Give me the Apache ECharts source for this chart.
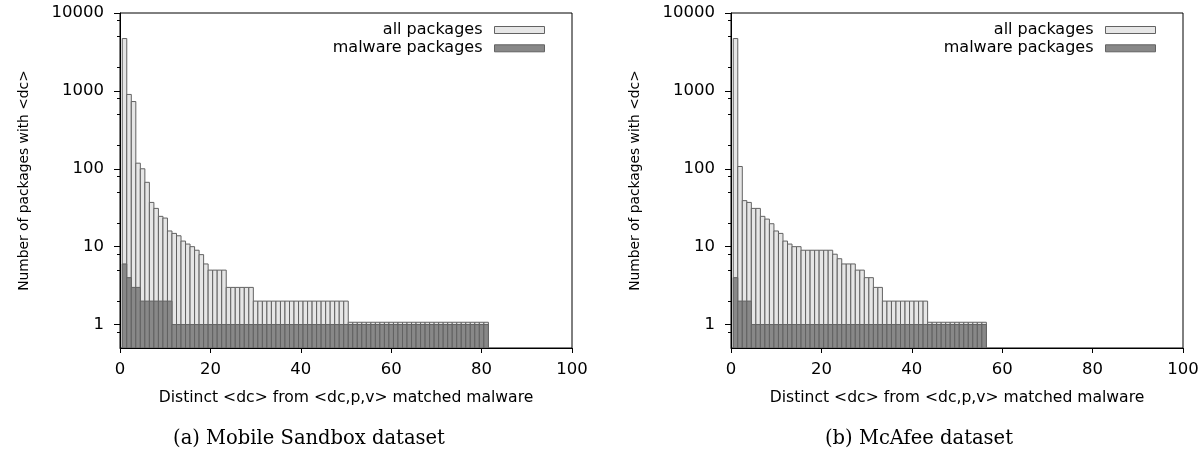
<!DOCTYPE html>
<html><head><meta charset="utf-8">
<script src="https://cdn.jsdelivr.net/npm/echarts@6/dist/echarts.min.js"></script>
<style>html,body{margin:0;padding:0;background:#fff}#c{width:1204px;height:452px}</style>
</head><body><div id="c"></div>
<script>
// ---- data ----
const seriesNames = ['all packages', 'malware packages'];
// x = 1..81 (Mobile Sandbox)
const sandboxAll = [
  4700, 900, 730, 118, 100, 67, 37, 31, 24.5, 23.3,
  15.9, 14.8, 13.8, 11.8, 10.8, 10, 9, 7.9, 6, 5,
  5, 5, 5, 3, 3, 3, 3, 3, 3, 2,
  2, 2, 2, 2, 2, 2, 2, 2, 2, 2,
  2, 2, 2, 2, 2, 2, 2, 2, 2, 2,
  1.07, 1.07, 1.07, 1.07, 1.07, 1.07, 1.07, 1.07, 1.07, 1.07,
  1.07, 1.07, 1.07, 1.07, 1.07, 1.07, 1.07, 1.07, 1.07, 1.07,
  1.07, 1.07, 1.07, 1.07, 1.07, 1.07, 1.07, 1.07, 1.07, 1.07,
  1.07
];
const sandboxMalware = [
  6, 4, 3, 3, 2, 2, 2, 2, 2, 2,
  2, 1, 1, 1, 1, 1, 1, 1, 1, 1,
  1, 1, 1, 1, 1, 1, 1, 1, 1, 1,
  1, 1, 1, 1, 1, 1, 1, 1, 1, 1,
  1, 1, 1, 1, 1, 1, 1, 1, 1, 1,
  1, 1, 1, 1, 1, 1, 1, 1, 1, 1,
  1, 1, 1, 1, 1, 1, 1, 1, 1, 1,
  1, 1, 1, 1, 1, 1, 1, 1, 1, 1,
  1
];
// x = 1..56 (McAfee)
const mcafeeAll = [
  4700, 107, 39, 37, 31, 31, 24.5, 22.6, 19.7, 15.9,
  14.8, 11.8, 10.8, 10, 10, 9, 9, 9, 9, 9,
  9, 9, 8, 7, 6, 6, 6, 5, 5, 4,
  4, 3, 3, 2, 2, 2, 2, 2, 2, 2,
  2, 2, 2, 1.07, 1.07, 1.07, 1.07, 1.07, 1.07, 1.07,
  1.07, 1.07, 1.07, 1.07, 1.07, 1.07
];
const mcafeeMalware = [
  4, 2, 2, 2, 1, 1, 1, 1, 1, 1,
  1, 1, 1, 1, 1, 1, 1, 1, 1, 1,
  1, 1, 1, 1, 1, 1, 1, 1, 1, 1,
  1, 1, 1, 1, 1, 1, 1, 1, 1, 1,
  1, 1, 1, 1, 1, 1, 1, 1, 1, 1,
  1, 1, 1, 1, 1, 1
];
const yTicks = [1, 10, 100, 1000, 10000];
const yMinorTicks = [0.8, 2, 5, 8, 20, 50, 80, 200, 500, 800, 2000, 5000, 8000];
const captions = ['(a) Mobile Sandbox dataset', '(b) McAfee dataset'];
const xTitle = 'Distinct <dc> from <dc,p,v> matched malware';
const yTitle = 'Number of packages with <dc>';
const X_MIN = 0, X_MAX = 100, X_STEP = 20;
const Y_MIN = 0.5, Y_MAX = 10000;

// ---- styles ----
const FONT = 'DejaVu Sans';
const LIGHT = '#e6e6e6', DARK = '#888888', EDGE = '#626262';
const GRID_LEFT = [120, 731];

const toPairs = arr => arr.map((v, i) => [i + 1, v]);

function boxRender(fill) {
  return function (params, api) {
    const x = api.value(0), y = api.value(1);
    const p0 = api.coord([x - 0.5, y]);
    const p1 = api.coord([x + 0.5, Y_MIN]);
    return {
      type: 'rect',
      shape: { x: p0[0], y: p0[1], width: p1[0] - p0[0], height: p1[1] - p0[1] },
      style: { fill: fill, stroke: EDGE, lineWidth: 1 }
    };
  };
}

const grids = [], xAxes = [], yAxes = [], series = [], legends = [], titles = [];
const datasets = [[sandboxAll, sandboxMalware], [mcafeeAll, mcafeeMalware]];
const legendRight = [654, 43];
const captionCenter = [304, 914];

for (let g = 0; g < 2; g++) {
  grids.push({ left: GRID_LEFT[g], top: 13, width: 452, height: 335, show: true,
    borderColor: '#000', borderWidth: 1, backgroundColor: 'transparent' });
  xAxes.push({
    type: 'value', gridIndex: g, min: X_MIN, max: X_MAX, interval: X_STEP,
    axisLine: { show: true, lineStyle: { color: '#000', width: 1 } },
    axisTick: { show: true, inside: false, length: 5, lineStyle: { color: '#000' } },
    axisLabel: { color: '#000', fontFamily: FONT, fontSize: 16.5, margin: 13 },
    splitLine: { show: false },
    name: xTitle, nameLocation: 'middle', nameGap: 42,
    nameTextStyle: { color: '#000', fontFamily: FONT, fontSize: 15.6 }
  });
  yAxes.push({
    type: 'log', logBase: 10, gridIndex: g, min: Y_MIN, max: Y_MAX, position: 'left',
    axisLine: { show: true, lineStyle: { color: '#000', width: 1 } },
    axisTick: { show: true, inside: false, length: 6, customValues: yTicks, lineStyle: { color: '#000' } },
    axisLabel: { color: '#000', fontFamily: FONT, fontSize: 16.5, margin: 16, customValues: yTicks,
      formatter: v => String(Math.round(v)) },
    splitLine: { show: false },
    name: yTitle, nameLocation: 'middle', nameGap: 89, nameRotate: 90,
    nameTextStyle: { color: '#000', fontFamily: FONT, fontSize: 13.8 }
  });
  yAxes.push({
    type: 'log', logBase: 10, gridIndex: g, min: Y_MIN, max: Y_MAX, position: 'left', offset: 0,
    axisLine: { show: false },
    axisTick: { show: true, inside: false, length: 3, customValues: yMinorTicks, lineStyle: { color: '#000' } },
    axisLabel: { show: false },
    splitLine: { show: false }
  });
  const fills = [LIGHT, DARK];
  for (let s = 0; s < 2; s++) {
    series.push({
      type: 'custom', name: seriesNames[s], xAxisIndex: g, yAxisIndex: g * 2,
      renderItem: boxRender(fills[s]),
      itemStyle: { color: fills[s], borderColor: EDGE, borderWidth: 1 },
      encode: { x: 0, y: 1 },
      clip: true, z: 2 + s,
      data: toPairs(datasets[g][s])
    });
  }
  legends.push({
    orient: 'vertical', right: legendRight[g], top: 17, align: 'right',
    icon: 'rect', itemWidth: 50, itemHeight: 7, itemGap: 2.3,
    selectedMode: false,
    textStyle: { color: '#000', fontFamily: FONT, fontSize: 16, lineHeight: 16, padding: [0, 7, 0, 0] },
    data: seriesNames.map((n, i) => ({ name: n, itemStyle: { color: fills[i], borderColor: EDGE, borderWidth: 1 } }))
  });
  titles.push({
    text: captions[g], left: captionCenter[g], top: 424, textAlign: 'center',
    textStyle: { color: '#000', fontFamily: 'DejaVu Serif', fontSize: 19.5, fontWeight: 'normal' }
  });
}

const chart = echarts.init(document.getElementById('c'), null, { renderer: 'canvas' });
chart.setOption({
  animation: false,
  backgroundColor: '#fff',
  title: titles,
  legend: legends,
  grid: grids,
  xAxis: xAxes,
  yAxis: yAxes,
  series: series
});
</script>
</body></html>
